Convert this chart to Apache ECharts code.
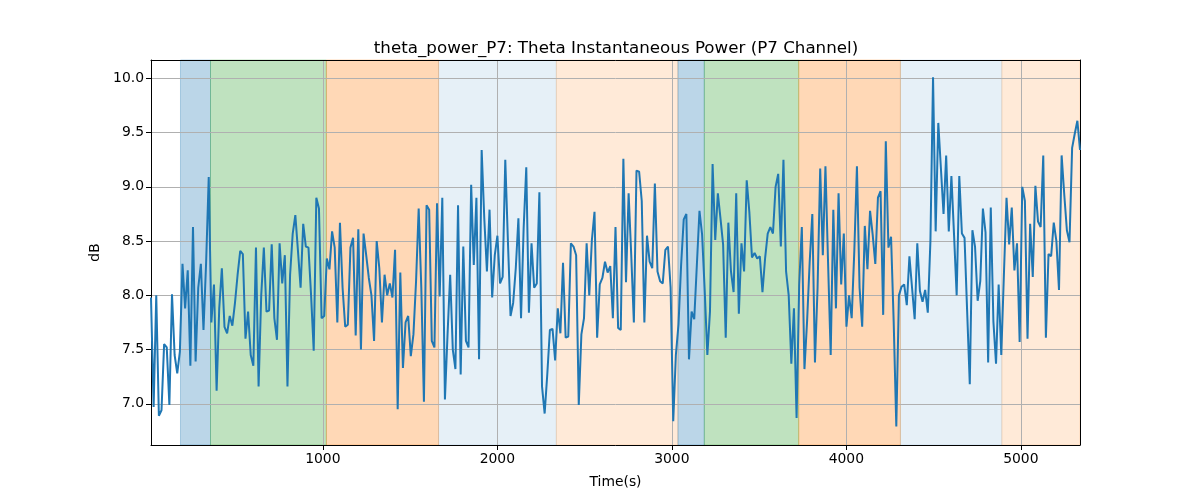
<!DOCTYPE html>
<html>
<head>
<meta charset="utf-8">
<script src="https://cdn.jsdelivr.net/npm/echarts@6/dist/echarts.min.js"></script>
<style>html,body{margin:0;padding:0;background:#fff}#c{width:1200px;height:500px}</style>
</head>
<body>
<div id="c"></div>
<script>
const title = 'theta_power_P7: Theta Instantaneous Power (P7 Channel)';
const xLabel = 'Time(s)';
const yLabel = 'dB';
const tStart = 15;
const tStep = 15.04;
const values = [
7.98,6.97,8.0,6.89,6.94,7.55,7.52,6.99,8.01,7.45,7.28,7.48,8.29,7.88,8.23,7.35,8.63,7.39,8.07,8.29,
7.68,8.3,9.09,7.75,8.1,7.12,7.88,8.25,7.71,7.65,7.81,7.72,7.93,8.19,8.41,8.38,7.6,7.85,7.45,7.35,
8.44,7.16,8.0,8.44,7.85,7.86,8.47,7.79,7.59,8.48,8.11,8.37,7.16,8.19,8.57,8.74,8.41,8.07,8.66,8.45,
8.44,8.0,7.49,8.9,8.8,7.79,7.81,8.34,8.24,8.59,8.44,7.75,8.67,8.07,7.71,7.73,8.44,8.53,7.63,8.61,
7.5,8.57,8.37,8.16,8.0,7.58,8.5,8.25,7.75,8.19,8.0,8.11,7.98,8.42,6.95,8.21,7.33,7.75,7.81,7.44,
7.64,8.13,8.8,8.07,7.02,8.83,8.79,7.58,7.52,8.85,7.99,8.9,7.04,7.64,8.19,7.5,7.32,8.83,7.27,8.45,
7.58,7.52,9.02,8.28,8.9,7.41,9.34,8.71,8.22,8.79,7.98,8.37,8.55,8.11,8.17,9.25,8.5,7.81,7.93,8.25,
8.71,7.79,8.62,9.18,7.84,8.48,8.07,8.11,8.95,7.16,6.91,7.27,7.68,7.69,7.4,7.88,7.65,8.3,7.61,7.62,
8.48,8.45,8.37,6.99,7.64,7.79,8.48,8.0,8.51,8.77,7.61,8.1,8.16,8.31,8.21,8.27,7.79,8.63,7.7,7.68,
9.26,8.12,8.94,8.37,7.75,9.15,9.14,8.87,7.75,8.55,8.31,8.25,9.03,8.22,8.13,8.11,8.42,8.45,8.07,6.84,
7.45,7.73,8.28,8.7,8.75,7.41,7.85,7.78,8.28,8.78,8.56,8.04,7.45,7.85,9.21,8.51,8.94,8.71,8.47,7.61,
8.67,8.22,8.03,8.94,7.83,8.48,8.22,9.06,8.77,8.35,8.39,8.34,8.36,8.03,8.34,8.57,8.63,8.57,9.0,9.12,
8.45,9.25,8.22,8.0,7.37,7.88,6.87,8.1,8.63,7.32,7.76,8.31,8.75,7.38,8.07,9.17,8.37,9.19,8.3,7.45,
8.79,7.88,8.94,8.1,8.57,7.71,8.0,7.79,8.41,9.19,8.07,7.71,8.64,8.24,8.78,8.56,8.29,8.9,8.96,7.82,
9.42,8.44,8.54,7.76,6.79,8.0,8.08,8.1,7.91,8.36,8.07,7.78,8.48,8.04,7.94,8.05,7.84,8.5,10.01,8.59,
9.59,9.17,8.75,9.29,8.59,9.1,8.56,8.0,9.1,8.57,8.53,7.85,7.18,8.6,8.45,7.95,8.13,8.8,8.58,7.38,
8.81,7.76,7.37,8.1,7.45,8.19,8.9,8.47,8.81,8.23,8.48,7.57,9.0,8.87,7.6,8.66,8.17,9.01,8.68,8.63,
9.29,7.61,8.38,8.36,8.67,8.5,8.05,9.29,8.93,8.6,8.49,9.36,9.49,9.61,9.34
];
const bandStarts = [184, 356, 1020, 1663, 2338, 3035, 3186, 3727, 4310, 4891];
const bandEnds   = [356, 1020, 1663, 2338, 3035, 3186, 3727, 4310, 4891, 5338];
const bandColors = ['rgba(31,119,180,0.3)','rgba(44,160,44,0.3)','rgba(255,127,14,0.3)','rgba(31,119,180,0.11)','rgba(255,127,14,0.16)',
                    'rgba(31,119,180,0.3)','rgba(44,160,44,0.3)','rgba(255,127,14,0.3)','rgba(31,119,180,0.11)','rgba(255,127,14,0.16)'];

const times = values.map((v, i) => tStart + i * tStep);
const lineData = values.map((v, i) => [times[i], v]);
const xMin = times[0];
const xMax = Math.max(times[times.length - 1], bandEnds[bandEnds.length - 1]);
const yMin = 6.62, yMax = 10.17;

const font = 'DejaVu Sans';
const chart = echarts.init(document.getElementById('c'), null, {renderer: 'canvas'});
const markAreaData = bandStarts.map((s, i) => [
  {xAxis: s, itemStyle: {color: bandColors[i], borderColor: bandColors[i], borderWidth: 1}},
  {xAxis: bandEnds[i]}
]);

chart.setOption({
  animation: false,
  backgroundColor: '#fff',
  title: {
    text: title, left: 611, top: 35, textAlign: 'center',
    textStyle: {fontFamily: font, fontSize: 16.7, fontWeight: 'normal', color: '#000'}
  },
  grid: {left: 151, right: 120, top: 60, bottom: 55, containLabel: false},
  xAxis: [{
    type: 'value', min: xMin, max: xMax, splitNumber: 5, z: 3,
    name: xLabel, nameLocation: 'middle', nameGap: 30,
    nameTextStyle: {fontFamily: font, fontSize: 13.9, color: '#000'},
    axisLine: {show: true, onZero: false, lineStyle: {color: '#000', width: 1}},
    axisTick: {show: true, length: 5, lineStyle: {color: '#000'}},
    axisLabel: {fontFamily: font, fontSize: 13.9, color: '#000', margin: 7, showMinLabel: false, showMaxLabel: false,
      formatter: v => (Math.abs(v % 1000) < 1e-6 ? String(v) : '')},
    splitLine: {show: true, lineStyle: {color: '#b0b0b0', width: 1}}
  }, {
    type: 'value', position: 'top', min: xMin, max: xMax, z: 3,
    axisLine: {show: true, onZero: false, lineStyle: {color: '#000', width: 1}},
    axisTick: {show: false}, axisLabel: {show: false}, splitLine: {show: false}
  }],
  yAxis: [{
    type: 'value', min: yMin, max: yMax, splitNumber: 7, minInterval: 0.5, maxInterval: 0.5, z: 3,
    name: yLabel, nameLocation: 'middle', nameGap: 47, nameRotate: 90,
    nameTextStyle: {fontFamily: font, fontSize: 13.9, color: '#000'},
    axisLine: {show: true, onZero: false, lineStyle: {color: '#000', width: 1}},
    axisTick: {show: true, length: 5, lineStyle: {color: '#000'}},
    axisLabel: {fontFamily: font, fontSize: 13.9, color: '#000', margin: 7, showMinLabel: false, showMaxLabel: false,
      formatter: v => v.toFixed(1)},
    splitLine: {show: true, lineStyle: {color: '#b0b0b0', width: 1}}
  }, {
    type: 'value', position: 'right', min: yMin, max: yMax, z: 3,
    axisLine: {show: true, onZero: false, lineStyle: {color: '#000', width: 1}},
    axisTick: {show: false}, axisLabel: {show: false}, splitLine: {show: false}
  }],
  series: [{
    type: 'line', data: [], z: 1, silent: true,
    markArea: {silent: true, data: markAreaData}
  }, {
    type: 'line', data: lineData, z: 5, showSymbol: false, symbol: 'none',
    lineStyle: {color: '#1f77b4', width: 2}, itemStyle: {color: '#1f77b4'}
  }]
});
</script>
</body>
</html>
